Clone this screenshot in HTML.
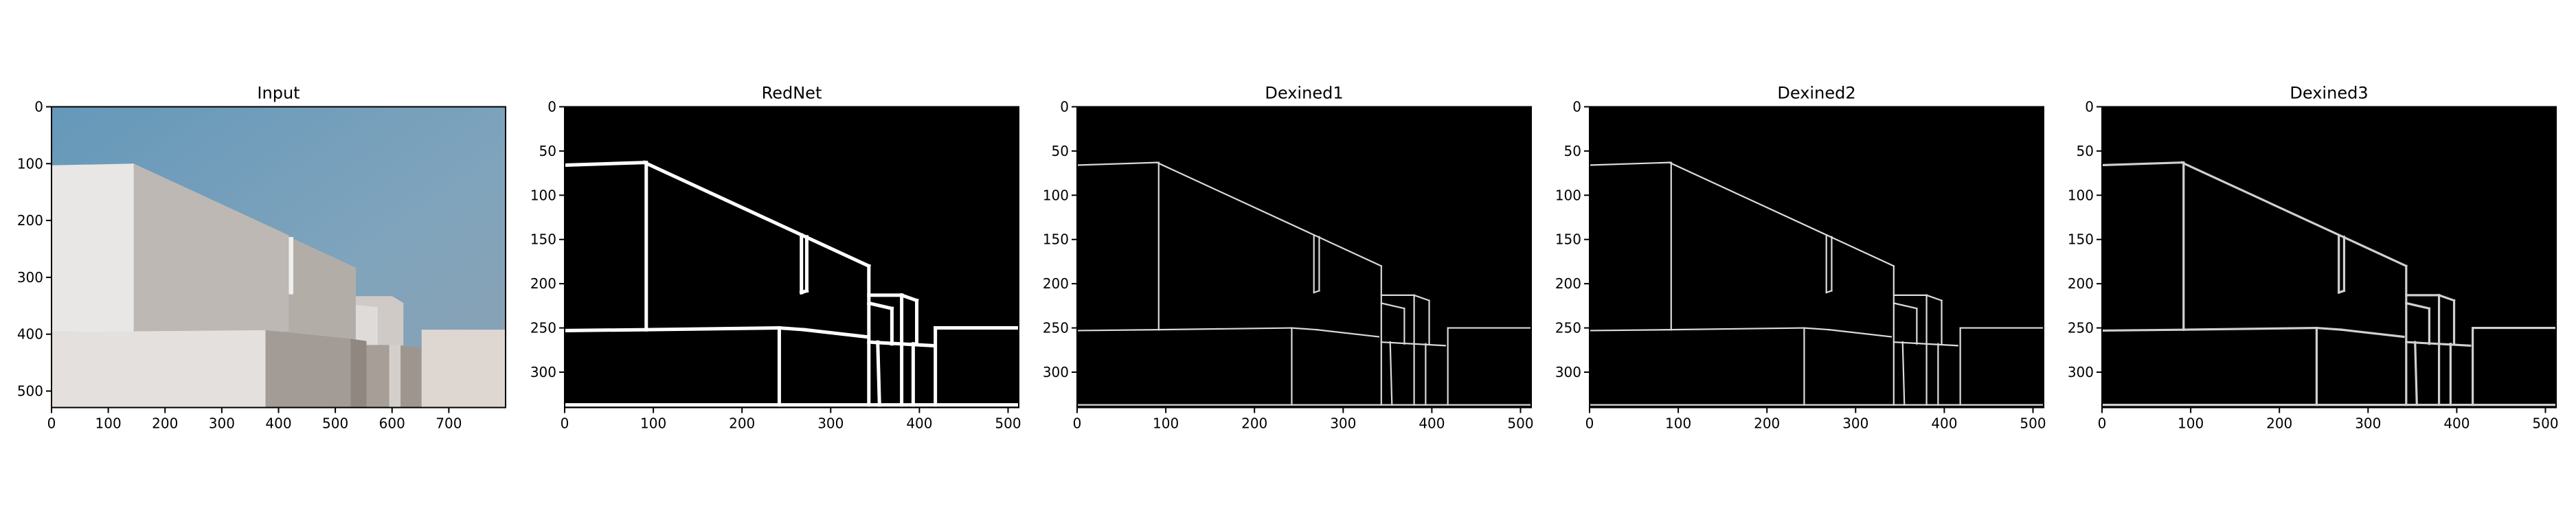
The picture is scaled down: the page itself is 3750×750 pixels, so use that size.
<!DOCTYPE html>
<html><head><meta charset="utf-8">
<style>
html,body{margin:0;padding:0;background:#fff;}
svg{display:block;}
text{font-family:"DejaVu Sans","Liberation Sans",sans-serif;fill:#000;}
</style></head>
<body>
<svg id="fig" width="3750" height="750" viewBox="0 0 3750 750" xmlns="http://www.w3.org/2000/svg"></svg>
<script>
// Panel data
const panelTitles = ["Input", "RedNet", "Dexined1", "Dexined2", "Dexined3"];
const panelLefts = [75, 822, 1568, 2314, 3060];
const inputXTicks = [0, 100, 200, 300, 400, 500, 600, 700];
const inputYTicks = [0, 100, 200, 300, 400, 500];
const edgeXTicks = [0, 100, 200, 300, 400, 500];
const edgeYTicks = [0, 50, 100, 150, 200, 250, 300];
const inputSize = [800, 529];
const edgeSize = [512, 340];
// edge segments in image coordinates [x1,y1,x2,y2]
const edgeSegments = [
 [0,66,90,63],[90,63,343,180],[92,63,92,252],
 [0,253,92,252],[92,252,242,250],[242,250,270,252],[270,252,340,260],
 [242,250,242,337],[267,145,267,210],[273,147,273,208],[267,210,273,208],
 [343,180,343,337],[343,213,380,213],[380,213,397,219],[380,213,380,337],
 [397,219,397,268],[393,268,393,337],[343,222,369,228],[369,228,369,268],
 [343,266,415,270],[353,266,355,337],[418,250,418,337],[418,250,512,250],
 [0,337,512,337]
];
const edgeStyles = [
 {w:5,c:"#ffffff"},{w:2.2,c:"#d8d8d8"},{w:2.2,c:"#dcdcdc"},{w:3.2,c:"#d0d0d0"}
];
// input image shapes [color, points in image coords]
const inputShapes = [
 ["#e8e7e5","0,103 145,100 145,396 0,396"],
 ["#bdb8b3","145,100 418,226 418,396 145,396"],
 ["#f0efed","418,229 426,229 426,330 418,330"],
 ["#b3ada8","426,232 536,283 536,420 418,420 418,330 426,330"],
 ["#dedbd8","536,348 575,352 575,420 536,420"],
 ["#cfcac6","566,333 600,333 620,345 620,420 575,420 575,352 536,348 536,333"],
 ["#e4e0dd","0,396 377,393 377,529 0,529"],
 ["#a39c96","377,393 527,408 540,410 540,529 377,529"],
 ["#8f8780","527,408 555,412 555,529 527,529"],
 ["#a69e97","555,419 595,419 595,529 555,529"],
 ["#d5cfcb","595,419 615,419 615,529 595,529"],
 ["#9e968e","615,420 652,425 652,529 615,529"],
 ["#ddd6d1","652,392 800,392 800,529 652,529"]
];
const NS = "http://www.w3.org/2000/svg";
const fig = document.getElementById("fig");
const TOP = 155.5, H = 438, W = 661;
function el(tag, attrs, parent){const e=document.createElementNS(NS,tag);for(const k in attrs)e.setAttribute(k,attrs[k]);(parent||fig).appendChild(e);return e;}
const defs = el("defs",{});
const grad = el("linearGradient",{id:"sky",x1:"0",y1:"0",x2:"1",y2:"1"},defs);
el("stop",{offset:"0","stop-color":"#6598ba"},grad);
el("stop",{offset:"0.6","stop-color":"#80a4bc"},grad);
el("stop",{offset:"1","stop-color":"#8aa0b2"},grad);

panelTitles.forEach((title, i) => {
  const L = panelLefts[i];
  const isInput = i === 0;
  const size = isInput ? inputSize : edgeSize;
  const sx = W / size[0], sy = H / size[1];
  const xs = v => L + v * sx, ys = v => TOP + v * sy;
  const g = el("g",{});
  
  
  const t = el("text",{x:L+W/2,y:TOP-12,"text-anchor":"middle","font-size":"24"},g);
  t.textContent = title;
  
  
  const img = el("g",{},g);
  
  
  if (isInput) {
    el("rect",{x:L,y:TOP,width:W,height:H,fill:"url(#sky)"},img);
    inputShapes.forEach(s => {
      const pts = s[1].split(" ").map(p => {const [a,b]=p.split(",").map(Number);return xs(a)+","+ys(b);}).join(" ");
      const poly = el("polygon",{points:pts,fill:s[0]},img);
      
      
    });
  } else {
    el("rect",{x:L,y:TOP,width:W,height:H,fill:"#000"},img);
    const st = edgeStyles[i-1];
    edgeSegments.forEach(s => {
      const ln = el("line",{x1:xs(s[0]),y1:ys(s[1]),x2:xs(s[2]),y2:ys(s[3]),stroke:st.c,"stroke-width":st.w,"stroke-linecap":"square"},img);
      
      
    });
  }
  el("rect",{x:L,y:TOP,width:W,height:H,fill:"none",stroke:"#000","stroke-width":"2"},g);
  const xt = isInput ? inputXTicks : edgeXTicks;
  const yt = isInput ? inputYTicks : edgeYTicks;
  xt.forEach(v => {
    const x = xs(v);
    el("line",{x1:x,y1:TOP+H,x2:x,y2:TOP+H+8,stroke:"#000","stroke-width":"2"},g);
    const tx = el("text",{x:x,y:TOP+H+30,"text-anchor":"middle","font-size":"20"},g);
    tx.textContent = v;
    
    
  });
  yt.forEach(v => {
    const y = ys(v);
    el("line",{x1:L-8,y1:y,x2:L,y2:y,stroke:"#000","stroke-width":"2"},g);
    const ty = el("text",{x:L-12,y:y+7,"text-anchor":"end","font-size":"20"},g);
    ty.textContent = v;
    
    
  });
});
</script>
</body></html>
